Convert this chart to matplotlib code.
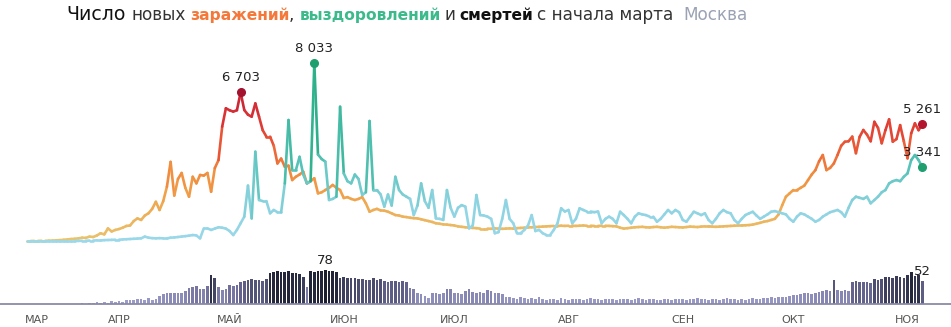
import numpy as np
import matplotlib.pyplot as plt
from matplotlib.collections import LineCollection
from matplotlib.colors import LinearSegmentedColormap, Normalize

# daily values, Moscow, last day = 5 Nov (day 249 counted from 1 Mar)
last_day = 249

cases = [
    0, 0, 5, 5, 10, 10, 15, 20, 30, 40,
    55, 70, 90, 100, 120, 150, 140, 200, 180, 250,
    350, 300, 570, 430, 500,
    540, 600, 680, 700, 900, 1020, 950, 1150, 1250, 1450,
    1770, 1400, 1800, 2450, 3570, 2050, 2800, 3070, 2400, 2000,
    2900, 2600, 2980, 2950, 3070, 2225, 3290, 3650, 5160, 5990,
    5900, 5840, 5900, 6703, 5910, 5700, 5610, 6210, 5610, 5000,
    4710, 4710, 4300, 3500, 3720, 3350, 3400, 2750, 2900, 3000,
    3130, 2600, 2700, 2830, 2150, 2200, 2300, 2400, 2530, 2400,
    2300, 1940, 1980, 1900, 1850, 1900, 1980, 1700, 1320, 1400,
    1450, 1380, 1370, 1320, 1250, 1170, 1150, 1100, 1080, 1050,
    1030, 1020, 980, 940, 900, 860, 800, 780, 750, 740,
    720, 700, 660, 640, 620, 600, 590, 580, 560, 560,
    560, 550, 570, 560, 550, 560, 570, 560, 580, 590,
    600, 610, 620, 630, 640, 650, 660, 670, 680, 680,
    690, 680, 690, 690, 680, 690, 700, 690, 690, 680,
    680, 690, 690, 680, 670, 660, 600, 560, 580, 600,
    620, 630, 640, 620, 610, 630, 640, 620, 600, 620,
    640, 630, 620, 610, 630, 650, 640, 630, 650, 660,
    660, 650, 640, 650, 660, 670, 680, 690, 700, 700,
    710, 720, 740, 780, 820, 870, 900, 950, 1000, 1200,
    1620, 2000, 2150, 2300, 2300, 2400, 2500, 2750, 3000, 3200,
    3600, 3880, 3200, 3300, 3500, 3880, 4300, 4480, 4500, 4710,
    3960, 4700, 5010, 4800, 4500, 5380, 5100, 4410, 5000, 5490,
    4480, 4600, 5230, 4500, 3730, 4860, 5310, 5000, 5261,
]

recovered = [
    0, 0, 0, 0, 0, 0, 0, 0, 0, 0, 0, 0,
    0, 0, 5, 10, 10, 20, 20, 30, 30, 40, 45, 50, 60,
    60, 70, 80, 90, 100, 110, 120, 200, 150, 130,
    120, 130, 120, 120, 150, 160, 180, 200, 220, 240,
    270, 250, 120, 570, 570, 500, 560, 620, 600, 560,
    450, 270, 500, 800, 1100, 2500, 1020, 4030, 1850, 1800,
    1800, 1250, 1400, 1300, 1300, 2600, 5460, 3200, 3200, 3800,
    3000, 2600, 2700, 8033, 3900, 3700, 3580, 1850, 1900, 2000,
    6060, 3050, 2700, 2600, 3000, 2800, 2075, 2200, 5415, 2300,
    2300, 2100, 1550, 2100, 1600, 2900, 2300, 2100, 2000, 1900,
    1170, 1600, 2600, 1800, 1500, 2300, 1020, 1000, 950, 2300,
    1500, 1100, 1500, 1620, 1550, 570, 700, 2075, 1170, 1150,
    1100, 1000, 350, 400, 1000, 1850, 1000, 800, 350, 350,
    500, 700, 1170, 450, 500, 350, 270, 270, 500, 800,
    1475, 1330, 1400, 800, 1000, 1475, 1400, 1330, 1330, 1300,
    1330, 800, 1000, 1100, 1000, 800, 1320, 1170, 1000, 800,
    1100, 1250, 1200, 1170, 1100, 1100, 870, 1000, 1200, 1400,
    1250, 1400, 1300, 950, 870, 1100, 1320, 1250, 1170, 1250,
    950, 800, 1000, 1250, 1400, 1300, 1250, 950, 800, 1000,
    1170, 1250, 1320, 1150, 1000, 1100, 1200, 1320, 1350, 1300,
    1250, 1200, 1000, 870, 1100, 1250, 1200, 1100, 1000, 870,
    950, 1100, 1200, 1300, 1350, 1400, 1300, 1100, 1500, 1850,
    2000, 1950, 1900, 2000, 1700, 1850, 2000, 2200, 2300, 2600,
    2700, 2750, 2700, 2900, 3050, 3650, 3880, 3650, 3341,
]

deaths = [
    1, 0, 2, 1, 3, 2, 4, 3, 5, 2,
    6, 4, 7, 5, 8, 9, 10, 12, 11, 10,
    13, 9, 12, 18, 22, 25, 26, 26, 25, 24,
    30, 36, 38, 40, 35, 33, 42, 67, 60, 38,
    32, 34, 43, 40, 44, 50, 52, 54, 56, 55,
    54, 53, 56, 70, 72, 74, 73, 72, 74, 71,
    70, 68, 62, 38, 74, 73, 75, 74, 78, 76,
    74, 73, 60, 62, 60, 58, 59, 57, 56, 55,
    54, 58, 55, 56, 52, 50, 52, 53, 51, 52,
    50, 36, 35, 24, 22, 18, 13, 24, 25, 23,
    24, 35, 33, 24, 25, 23, 30, 33, 28, 26,
    27, 24, 32, 30, 24, 25, 22, 15, 16, 14,
    12, 15, 13, 12, 14, 12, 16, 11, 10, 11,
    12, 10, 13, 11, 10, 12, 11, 12, 10, 11,
    13, 12, 11, 10, 12, 11, 12, 10, 11, 12,
    11, 10, 12, 13, 11, 10, 12, 11, 10, 9,
    11, 12, 10, 11, 12, 11, 10, 12, 11, 13,
    12, 11, 10, 12, 11, 10, 12, 13, 11, 12,
    10, 11, 9, 12, 13, 11, 12, 14, 13, 15,
    14, 16, 15, 17, 18, 20, 21, 22, 24, 25,
    23, 26, 28, 30, 31, 29, 54, 31, 30, 32,
    29, 50, 52, 51, 50, 49, 48, 57, 55, 56,
    62, 61, 60, 63, 61, 60, 65, 73, 64, 66,
    52,
]

month_labels = ["МАР", "АПР", "МАЙ", "ИЮН", "ИЮЛ", "АВГ", "СЕН", "ОКТ", "НОЯ"]
month_pos = [8.7, 31, 61, 92, 122, 153, 184, 214, 245]

cases = np.array(cases, float)
recovered = np.array(recovered, float)
deaths = np.array(deaths, float)
d_cases = np.arange(last_day - len(cases) + 1, last_day + 1)
d_rec = np.arange(last_day - len(recovered) + 1, last_day + 1)
d_deaths = np.arange(last_day - len(deaths) + 1, last_day + 1)

W, H = 951, 327
fig = plt.figure(figsize=(W / 100, H / 100), dpi=100)
xlim = (-1.3, 256.8)

cmap_cases = LinearSegmentedColormap.from_list(
    "cases", [(0, "#e9c46e"), (0.3, "#f0a24a"), (0.45, "#f08a3e"),
              (0.62, "#ea5a36"), (0.8, "#dc3434"), (1, "#c0203a")])
cmap_rec = LinearSegmentedColormap.from_list(
    "rec", [(0, "#9ad8ea"), (0.18, "#8fd4e2"), (0.4, "#5cc4bc"),
            (0.65, "#33b492"), (1, "#1fa673")])
cmap_deaths = LinearSegmentedColormap.from_list(
    "deaths", [(0, "#a4a4d0"), (0.4, "#8686b2"), (0.65, "#62628a"),
               (0.85, "#2f3149"), (1, "#1c1e2e")])


def grad_line(ax, x, y, cmap, norm):
    pts = np.column_stack([x, y]).reshape(-1, 1, 2)
    segs = np.concatenate([pts[:-1], pts[1:]], axis=1)
    lc = LineCollection(segs, cmap=cmap, norm=norm, linewidth=1.9,
                        capstyle="round", joinstyle="round")
    lc.set_array((y[:-1] + y[1:]) / 2)
    ax.add_collection(lc)


# lines
ax = fig.add_axes([0, (H - 245) / H, 1, 215 / H])
ax.set_xlim(*xlim)
ax.set_ylim(-180, 9522)
ax.axis("off")

grad_line(ax, d_cases, cases, cmap_cases, Normalize(0, 6900))
grad_line(ax, d_rec, recovered, cmap_rec, Normalize(0, 8033))

i_c = int(np.argmax(cases))
i_r = int(np.argmax(recovered))
marks = [
    (d_cases[i_c], cases[i_c], "#a3122e"),
    (d_cases[-1], cases[-1], "#b3152f"),
    (d_rec[i_r], recovered[i_r], "#1f9f6f"),
    (d_rec[-1], recovered[-1], "#1f9f6f"),
]
for x, y, c in marks:
    ax.plot(x, y, "o", ms=5.5, color=c, zorder=5)
    ax.annotate(f"{int(y):,}".replace(",", " "), (x, y), xytext=(0, 6),
                textcoords="offset points", ha="center", va="bottom",
                fontsize=9.5, color="#222222", zorder=6)

# deaths bars
ax2 = fig.add_axes([0, (H - 305) / H, 1, 55 / H])
ax2.set_xlim(*xlim)
ax2.set_ylim(-2.3, 122.7)
ax2.bar(d_deaths, deaths, width=0.72,
        color=cmap_deaths(Normalize(0, 78)(deaths)))
ax2.axhline(0, color="#8a8aa6", lw=1.3)
for s in ax2.spines.values():
    s.set_visible(False)
ax2.set_yticks([])
ax2.set_xticks(month_pos, month_labels)
ax2.tick_params(axis="x", length=0, pad=7, labelsize=8, labelcolor="#555555")
i_d = int(np.argmax(deaths))
for x, y in [(d_deaths[i_d], deaths[i_d]), (d_deaths[-1], deaths[-1])]:
    ax2.annotate(f"{int(y)}", (x, y), xytext=(0, 2), textcoords="offset points",
                 ha="center", va="bottom", fontsize=9.5, color="#222222")

# title, built piece by piece
pieces = [
    ("Число", "#111111", "normal", 13.6, 0),
    ("новых", "#333333", "normal", 12.2, 6),
    ("заражений", "#f4783a", "bold", 11.2, 4),
    (",", "#333333", "normal", 12.2, 0),
    ("выздоровлений", "#3cba8c", "bold", 11.2, 5),
    ("и", "#333333", "normal", 12.2, 4),
    ("смертей", "#111111", "bold", 11.2, 4),
    ("с начала марта", "#333333", "normal", 12.2, 4),
    ("Москва", "#9aa2b4", "normal", 12.2, 10),
]
fig.canvas.draw()
r = fig.canvas.get_renderer()
xpx = 66
for txt, col, wt, size, gap in pieces:
    xpx += gap
    t = fig.text(xpx / W, 1 - 15 / H, txt, color=col, fontweight=wt,
                 fontsize=size, ha="left", va="center")
    xpx = t.get_window_extent(renderer=r).x1

fig.savefig("out.png", dpi=100)
